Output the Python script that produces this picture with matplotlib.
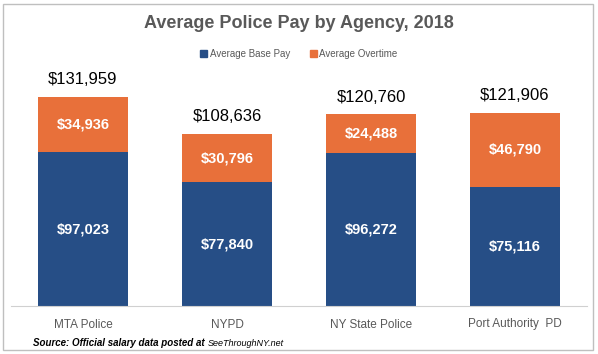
import matplotlib
matplotlib.use("Agg")
import matplotlib.pyplot as plt
from matplotlib.patches import Rectangle, Patch

categories = ["MTA Police", "NYPD", "NY State Police", "Port Authority  PD"]
base_pay = [97023, 77840, 96272, 75116]
overtime = [34936, 30796, 24488, 46790]
totals = [131959, 108636, 120760, 121906]

BLUE = "#264E86"
ORANGE = "#E8703A"

W, H = 598, 354
fig = plt.figure(figsize=(W / 100, H / 100), dpi=100)
fig.patch.set_facecolor("white")

ax = fig.add_axes([11 / W, 1 - 306 / H, 576 / W, 236 / H])
x = range(len(categories))
ax.bar(x, base_pay, width=0.625, color=BLUE)
ax.bar(x, overtime, bottom=base_pay, width=0.625, color=ORANGE)
ax.set_xlim(-0.5, 3.5)
ax.set_ylim(0, 148700)

for i in x:
    ax.text(i, base_pay[i] / 2, f"${base_pay[i]:,}", ha="center", va="center",
            color="white", fontweight="bold", fontsize=10.5, family="Liberation Sans")
    ax.text(i, base_pay[i] + overtime[i] / 2, f"${overtime[i]:,}", ha="center", va="center",
            color="white", fontweight="bold", fontsize=10.5, family="Liberation Sans")
    ax.text(i, totals[i] + 6000, f"${totals[i]:,}", ha="center", va="bottom",
            color="black", fontsize=12, family="Liberation Sans")

for s in ["top", "right", "left"]:
    ax.spines[s].set_visible(False)
ax.spines["bottom"].set_color("#D0D0D0")
ax.set_yticks([])
ax.set_xticks(list(x))
ax.set_xticklabels(categories, fontsize=8.5, color="#595959", family="Liberation Sans")
ax.tick_params(axis="x", length=0, pad=9)

fig.text(0.5, 1 - 24 / H, "Average Police Pay by Agency, 2018", ha="center", va="center",
         fontsize=13, fontweight="bold", color="#595959", family="Liberation Sans")

handles = [Patch(color=BLUE, label="Average Base Pay"), Patch(color=ORANGE, label="Average Overtime")]
fig.legend(handles=handles, loc="center", bbox_to_anchor=(0.5, 1 - 54 / H), ncol=2,
           frameon=False, prop={"family": "Liberation Sans", "size": 7},
           labelcolor="#595959", handlelength=0.7, handleheight=0.7, handletextpad=0.3,
           columnspacing=2.0)

t1 = fig.text(33 / W, 1 - 343 / H, "Source: Official salary data posted at ", ha="left", va="center",
              fontsize=7, fontstyle="italic", fontweight="bold", color="black", family="Liberation Sans")
fig.canvas.draw()
bb = t1.get_window_extent()
fig.text(bb.x1 / W, 1 - 343 / H, "SeeThroughNY.net", ha="left", va="center",
         fontsize=6.5, fontstyle="italic", color="black", family="Liberation Sans")

fig.patches.append(Rectangle((3 / W, 4 / H), 590 / W, 346 / H, transform=fig.transFigure,
                             fill=False, edgecolor="#BFBFBF", linewidth=1))

fig.savefig("out.png", dpi=100)
